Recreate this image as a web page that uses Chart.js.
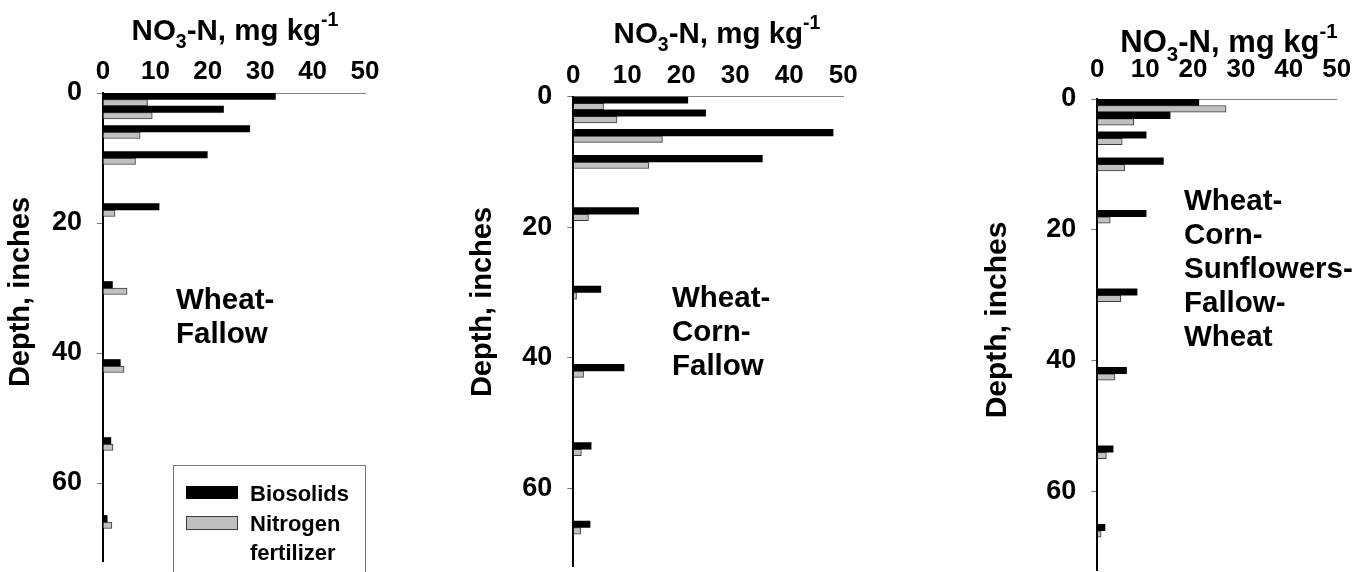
<!DOCTYPE html>
<html>
<head>
<meta charset="UTF-8">
<title>NO3-N by depth</title>
<script src="https://cdn.jsdelivr.net/npm/chart.js"></script>
<style>
  body { margin: 0; background: #fff; }
  #wrap { position: relative; width: 1356px; height: 572px; overflow: hidden;
          font-family: "Liberation Sans", Arial, sans-serif; font-weight: bold; color: #000; }
  canvas { position: absolute; top: 0; }
  .note { position: absolute; font-size: 29.5px; line-height: 34px; white-space: nowrap; }
  #legend { position: absolute; left: 173px; top: 465px; width: 191px; height: 130px; border: 1px solid #777; }
  .row { position: absolute; left: 12px; }
  .sw { position: absolute; left: 0; top: 7px; width: 52px; height: 13px; box-sizing: border-box; }
  .lab { position: absolute; left: 64px; width: 112px; font-size: 22px; line-height: 29px; }
</style>
</head>
<body>
<div id="wrap">
  <canvas id="c1" width="400" height="572" style="left:0px"></canvas>
  <canvas id="c2" width="440" height="572" style="left:440px"></canvas>
  <canvas id="c3" width="416" height="572" style="left:940px"></canvas>

  <div class="note" style="left:176px; top:282px">Wheat-<br>Fallow</div>
  <div class="note" style="left:672px; top:280px">Wheat-<br>Corn-<br>Fallow</div>
  <div class="note" style="left:1184px; top:183px">Wheat-<br>Corn-<br>Sunflowers-<br>Fallow-<br>Wheat</div>

  <div id="legend"></div>
</div>

<script>
// depth of each sampled layer (inches, middle of the pair of bars)
const depths = [1, 3, 6, 10, 18, 30, 42, 54, 66];
const xTicks = [0, 10, 20, 30, 40, 50];
const yTicks = [0, 20, 40, 60];
const seriesNames = ['Biosolids', 'Nitrogen fertilizer'];

// Wheat-Fallow
const wfBio  = [32.9, 23.0, 28.0, 19.9, 10.7, 1.8, 3.3, 1.5, 0.8];
const wfFert = [8.5, 9.4, 7.1, 6.2, 2.3, 4.6, 4.0, 1.9, 1.7];
// Wheat-Corn-Fallow
const wcfBio  = [21.2, 24.5, 48.1, 35.0, 12.1, 5.1, 9.4, 3.3, 3.1];
const wcfFert = [5.6, 8.1, 16.5, 14.0, 2.8, 0.6, 1.9, 1.5, 1.4];
// Wheat-Corn-Sunflowers-Fallow-Wheat
const wcsfwBio  = [21.2, 15.2, 10.2, 13.8, 10.2, 8.3, 6.1, 3.3, 1.6];
const wcsfwFert = [26.9, 7.6, 5.2, 5.7, 2.7, 4.9, 3.7, 1.9, 0.8];

const xTitle = ['NO', '3', '-N, mg kg', '-1'];
const yTitle = 'Depth, inches';

const fam = '"Liberation Sans", Arial, sans-serif';
Chart.defaults.font.family = fam;
Chart.defaults.font.weight = 'bold';
Chart.defaults.color = '#000';

const panels = [
  { id: 'c1', bio: wfBio, fert: wfFert,
    area: { left: 103, right: 365, top: 93, bottom: 561 }, tickPad: 6,
    xAt: [235, 40, 29.5], yAt: [21, 292, 29] },
  { id: 'c2', bio: wcfBio, fert: wcfFert,
    area: { left: 133.3, right: 403.3, top: 96.7, bottom: 566.7 }, tickPad: 5,
    xAt: [277, 43, 29.5], yAt: [43, 302, 29] },
  { id: 'c3', bio: wcsfwBio, fert: wcsfwFert,
    area: { left: 157.3, right: 396.7, top: 99, bottom: 570 }, tickPad: 14,
    xAt: [289, 52, 31], yAt: [58, 320, 30] }
];

// axis titles with sub/superscript
const axisTitles = {
  id: 'axisTitles',
  afterDraw(chart, args, o) {
    const ctx = chart.ctx;
    const s = o.xAt[2];
    const parts = [[xTitle[0], s, 0], [xTitle[1], s * 0.66, s * 0.28],
                   [xTitle[2], s, 0], [xTitle[3], s * 0.66, -s * 0.46]];
    ctx.save();
    ctx.fillStyle = '#000';
    ctx.textBaseline = 'alphabetic';
    let w = 0;
    parts.forEach(p => { ctx.font = 'bold ' + p[1] + 'px ' + fam; p.w = ctx.measureText(p[0]).width; w += p.w; });
    let x = o.xAt[0] - w / 2;
    parts.forEach(p => { ctx.font = 'bold ' + p[1] + 'px ' + fam; ctx.fillText(p[0], x, o.xAt[1] + p[2]); x += p.w; });
    ctx.translate(o.yAt[0], o.yAt[1]);
    ctx.rotate(-Math.PI / 2);
    ctx.font = 'bold ' + o.yAt[2] + 'px ' + fam;
    ctx.textAlign = 'center';
    ctx.textBaseline = 'middle';
    ctx.fillText(yTitle, 0, 0);
    ctx.restore();
  }
};

const charts = panels.map(p => {
  const cv = document.getElementById(p.id);
  return new Chart(cv, {
    type: 'bar',
    data: {
      datasets: [
        { label: seriesNames[0], data: depths.map((d, i) => ({ x: p.bio[i], y: d })),
          backgroundColor: '#000', borderWidth: 0 },
        { label: seriesNames[1], data: depths.map((d, i) => ({ x: p.fert[i], y: d })),
          backgroundColor: '#c0c0c0', borderColor: '#3a3a3a', borderWidth: 1 }
      ]
    },
    options: {
      indexAxis: 'y',
      responsive: false,
      animation: false,
      devicePixelRatio: 1,
      categoryPercentage: 1,
      barPercentage: 1,
      layout: { padding: { left: 0, top: 0, right: cv.width - p.area.right, bottom: cv.height - p.area.bottom } },
      plugins: { legend: { display: false }, tooltip: { enabled: false }, axisTitles: { xAt: p.xAt, yAt: p.yAt } },
      scales: {
        x: {
          type: 'linear', position: 'top', min: 0, max: 50,
          afterBuildTicks: s => { s.ticks = xTicks.map(v => ({ value: v })); },
          afterFit: s => { s.height = p.area.top; s.paddingLeft = 0; s.paddingRight = 0; },
          ticks: { font: { size: 26, weight: 'bold' }, padding: p.tickPad, maxRotation: 0 },
          grid: { display: true, drawOnChartArea: false, drawTicks: false },
          border: { display: true, color: '#808080', width: 1 }
        },
        y: {
          type: 'linear', reverse: true, min: 0, max: 72, offset: false,
          afterBuildTicks: s => { s.ticks = yTicks.map(v => ({ value: v })); },
          afterFit: s => { s.width = p.area.left; s.paddingTop = 0; s.paddingBottom = 0; },
          ticks: { font: { size: 27, weight: 'bold' }, padding: 15 },
          grid: { display: true, offset: false, drawOnChartArea: false, drawTicks: true, tickLength: 6, color: '#777' },
          border: { display: true, color: '#000', width: 2 }
        }
      }
    },
    plugins: [axisTitles]
  });
});

// legend built from the first panel's datasets
const leg = document.getElementById('legend');
charts[0].data.datasets.forEach((ds, i) => {
  const row = document.createElement('div');
  row.className = 'row';
  row.style.top = (13 + i * 29.5) + 'px';
  const sw = document.createElement('div');
  sw.className = 'sw';
  sw.style.background = ds.backgroundColor;
  if (ds.borderWidth) { sw.style.border = ds.borderWidth + 'px solid ' + ds.borderColor; sw.style.height = '14px'; }
  const lab = document.createElement('div');
  lab.className = 'lab';
  lab.textContent = ds.label;
  row.appendChild(sw);
  row.appendChild(lab);
  leg.appendChild(row);
});
</script>
</body>
</html>
